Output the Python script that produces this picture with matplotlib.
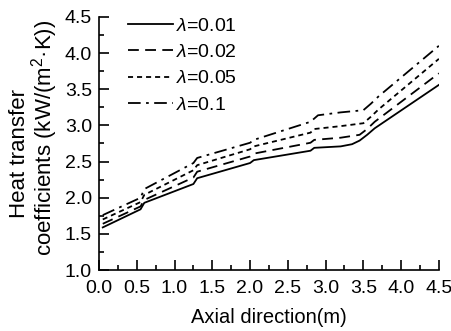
import numpy as np
import matplotlib
matplotlib.use('Agg')
import matplotlib.pyplot as plt
from matplotlib.ticker import MultipleLocator

plt.rcParams['font.family'] = 'Liberation Sans'
plt.rcParams['mathtext.fontset'] = 'custom'
plt.rcParams['mathtext.rm'] = 'Liberation Sans'
plt.rcParams['mathtext.it'] = 'Liberation Sans:italic'

# curves (axial position in m, heat transfer coefficient)
x_001 = [0.05, 0.55, 0.6, 1.25, 1.3, 2.0, 2.05, 2.8, 2.85, 3.2, 3.35, 3.45, 3.55, 3.65, 4.5]
h_001 = [1.59, 1.84, 1.93, 2.19, 2.27, 2.48, 2.52, 2.65, 2.69, 2.71, 2.74, 2.79, 2.87, 2.96, 3.56]

x_002 = [0.05, 0.55, 0.6, 1.25, 1.3, 2.0, 2.05, 2.8, 2.85, 3.2, 3.45, 3.55, 3.65, 4.5]
h_002 = [1.64, 1.88, 1.97, 2.28, 2.36, 2.57, 2.61, 2.76, 2.80, 2.83, 2.87, 2.95, 3.05, 3.72]

x_005 = [0.05, 0.55, 0.6, 1.25, 1.3, 2.0, 2.05, 2.8, 2.85, 3.2, 3.5, 3.6, 3.7, 4.5]
h_005 = [1.70, 1.94, 2.04, 2.38, 2.45, 2.67, 2.71, 2.90, 2.95, 2.99, 3.03, 3.12, 3.22, 3.92]

x_01 = [0.05, 0.55, 0.6, 1.25, 1.3, 2.0, 2.05, 2.8, 2.9, 3.2, 3.5, 3.6, 3.7, 4.5]
h_01 = [1.76, 2.00, 2.12, 2.48, 2.55, 2.76, 2.80, 3.05, 3.14, 3.18, 3.21, 3.30, 3.40, 4.10]

labels = [r'$\lambda$=0.01', r'$\lambda$=0.02', r'$\lambda$=0.05', r'$\lambda$=0.1']

fig = plt.figure(figsize=(4.52, 3.31), dpi=100)
ax = fig.add_axes([0.219, 0.184, 0.752, 0.765])

lw = 1.3
ax.plot(x_001, h_001, color='black', lw=lw, linestyle='-', label=labels[0])
ax.plot(x_002, h_002, color='black', lw=lw, linestyle=(0, (6, 3.5)), label=labels[1])
ax.plot(x_005, h_005, color='black', lw=lw, linestyle=(0, (2.8, 2.2)), label=labels[2])
ax.plot(x_01, h_01, color='black', lw=lw, linestyle=(0, (7, 3, 1.5, 3)), label=labels[3])

ax.set_xlim(0, 4.5)
ax.set_ylim(1.0, 4.5)
ax.xaxis.set_major_locator(MultipleLocator(0.5))
ax.xaxis.set_minor_locator(MultipleLocator(0.25))
ax.yaxis.set_major_locator(MultipleLocator(0.5))
ax.yaxis.set_minor_locator(MultipleLocator(0.25))
ax.xaxis.set_major_formatter(plt.FormatStrFormatter('%.1f'))
ax.yaxis.set_major_formatter(plt.FormatStrFormatter('%.1f'))

ax.spines['top'].set_visible(False)
ax.spines['right'].set_visible(False)
for s in ['left', 'bottom']:
    ax.spines[s].set_linewidth(1.2)
ax.tick_params(which='major', direction='in', length=7, width=1.2, labelsize=14)
ax.tick_params(which='minor', direction='in', length=3.8, width=1.2)
ax.tick_params(axis='x', pad=7)
ax.tick_params(axis='y', pad=5)

ax.set_xlabel('Axial direction(m)', fontsize=14.5, labelpad=8)

# two-line y label, each line placed on its own
fig.text(19.5 / 452, 1 - 154 / 331, 'Heat transfer', rotation=90,
         ha='center', va='center', fontsize=16)
fig.text(45 / 452, 1 - 138 / 331, 'coefficients (kW/(m$^2$·K))', rotation=90,
         ha='center', va='center', fontsize=16)

ax.legend(loc='upper left', frameon=False, fontsize=14, handlelength=2.3,
          handletextpad=0.2, labelspacing=0.45, borderpad=0, borderaxespad=0,
          bbox_to_anchor=(0.085, 0.999))

fig.savefig('out.png', dpi=100)
